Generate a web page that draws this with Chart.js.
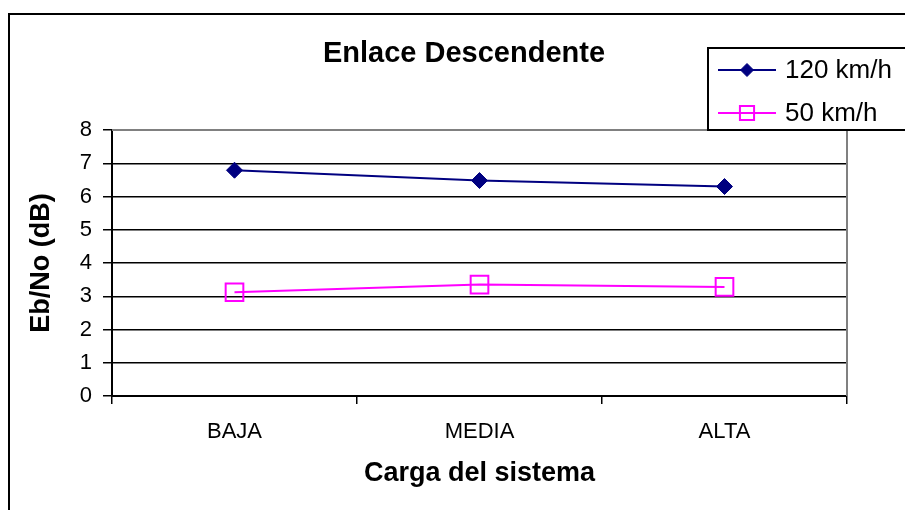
<!DOCTYPE html>
<html>
<head>
<meta charset="utf-8">
<script src="https://cdn.jsdelivr.net/npm/chart.js@4/dist/chart.umd.min.js"></script>
<style>
  html, body { margin: 0; padding: 0; background: #ffffff; }
  #wrap { width: 905px; height: 510px; }
</style>
</head>
<body>
<div id="wrap"><canvas id="c" width="905" height="510"></canvas></div>
<script>
// Categories and series
const categories = ['BAJA', 'MEDIA', 'ALTA'];
const speed120 = [6.79, 6.48, 6.3];
const speed50 = [3.12, 3.35, 3.28];
const yTicks = [0, 1, 2, 3, 4, 5, 6, 7, 8];
const seriesLabels = ['120 km/h', '50 km/h'];

const FONT = '"Liberation Sans", Arial, Helvetica, sans-serif';

// Outer frame, title, plot border and boxed legend
const decorations = {
  id: 'decorations',
  beforeDraw(chart) {
    const ctx = chart.ctx;
    ctx.save();
    ctx.fillStyle = '#ffffff';
    ctx.fillRect(0, 0, chart.width, chart.height);
    ctx.restore();
  },
  afterDraw(chart) {
    const ctx = chart.ctx;
    const a = chart.chartArea;
    ctx.save();

    // outer frame (left and top edges visible)
    ctx.strokeStyle = '#000000';
    ctx.lineWidth = 2;
    ctx.beginPath();
    ctx.moveTo(9, chart.height);
    ctx.lineTo(9, 14);
    ctx.lineTo(chart.width, 14);
    ctx.stroke();

    // plot area top and right border
    ctx.strokeStyle = '#808080';
    ctx.lineWidth = 2;
    ctx.beginPath();
    ctx.moveTo(a.left, a.top);
    ctx.lineTo(a.right, a.top);
    ctx.lineTo(a.right, a.bottom);
    ctx.stroke();

    // title
    ctx.fillStyle = '#000000';
    ctx.font = 'bold 29px ' + FONT;
    ctx.textAlign = 'center';
    ctx.textBaseline = 'alphabetic';
    ctx.fillText('Enlace Descendente', 464, 62);

    // legend box
    const lx = 708, ly = 48, lw = 220, lh = 82;
    ctx.fillStyle = '#ffffff';
    ctx.fillRect(lx, ly, lw, lh);
    ctx.strokeStyle = '#000000';
    ctx.lineWidth = 2;
    ctx.strokeRect(lx, ly, lw, lh);

    const rows = [70, 113];
    const legendRadius = [6.5, 10];
    chart.data.datasets.forEach((ds, i) => {
      const y = rows[i];
      ctx.strokeStyle = ds.borderColor;
      ctx.lineWidth = ds.borderWidth;
      ctx.beginPath();
      ctx.moveTo(718, y);
      ctx.lineTo(776, y);
      ctx.stroke();
      ctx.fillStyle = ds.pointBackgroundColor;
      ctx.strokeStyle = ds.pointBorderColor;
      ctx.lineWidth = ds.pointBorderWidth;
      Chart.helpers.drawPoint(ctx, {
        pointStyle: ds.pointStyle,
        radius: legendRadius[i],
        rotation: 0,
        borderWidth: ds.pointBorderWidth
      }, 747, y);
      ctx.fillStyle = '#000000';
      ctx.font = '26px ' + FONT;
      ctx.textAlign = 'left';
      ctx.textBaseline = 'middle';
      ctx.fillText(ds.label, 785, y + 1);
    });
    ctx.restore();
  }
};

new Chart(document.getElementById('c'), {
  type: 'line',
  data: {
    labels: categories,
    datasets: [
      {
        label: seriesLabels[0],
        data: speed120,
        borderColor: '#000080',
        borderWidth: 2,
        pointStyle: 'rectRot',
        pointRadius: 8,
        pointBackgroundColor: '#000080',
        pointBorderColor: '#000080',
        pointBorderWidth: 1,
        tension: 0
      },
      {
        label: seriesLabels[1],
        data: speed50,
        borderColor: '#FF00FF',
        borderWidth: 2,
        pointStyle: 'rect',
        pointRadius: 12.5,
        pointBackgroundColor: 'rgba(0,0,0,0)',
        pointBorderColor: '#FF00FF',
        pointBorderWidth: 2,
        tension: 0
      }
    ]
  },
  options: {
    responsive: false,
    animation: false,
    devicePixelRatio: 1,
    layout: { padding: { top: 130, right: 58, left: 0, bottom: 0 } },
    plugins: {
      legend: { display: false },
      title: { display: false },
      tooltip: { enabled: false }
    },
    scales: {
      x: {
        type: 'category',
        offset: true,
        afterFit(scale) { scale.height = 114; },
        grid: {
          offset: true,
          drawOnChartArea: false,
          drawTicks: true,
          tickLength: 8,
          color: '#000000',
          lineWidth: 1.5
        },
        border: { display: true, color: '#000000', width: 2 },
        ticks: {
          color: '#000000',
          font: { family: FONT, size: 22 },
          padding: 15,
          maxRotation: 0
        },
        title: {
          display: true,
          text: 'Carga del sistema',
          color: '#000000',
          font: { family: FONT, size: 27, weight: 'bold' },
          padding: { top: 0, bottom: 20 }
        }
      },
      y: {
        min: 0,
        max: 8,
        afterFit(scale) { scale.width = 112; },
        afterBuildTicks(scale) { scale.ticks = yTicks.map(v => ({ value: v })); },
        grid: {
          color: '#000000',
          lineWidth: 1.5,
          drawTicks: true,
          tickLength: 9
        },
        border: { display: true, color: '#000000', width: 2 },
        ticks: {
          color: '#000000',
          font: { family: FONT, size: 22 },
          padding: 11
        },
        title: {
          display: true,
          text: 'Eb/No (dB)',
          color: '#000000',
          font: { family: FONT, size: 27, weight: 'bold' },
          padding: { top: 25, bottom: 0 }
        }
      }
    }
  },
  plugins: [decorations]
});
</script>
</body>
</html>
